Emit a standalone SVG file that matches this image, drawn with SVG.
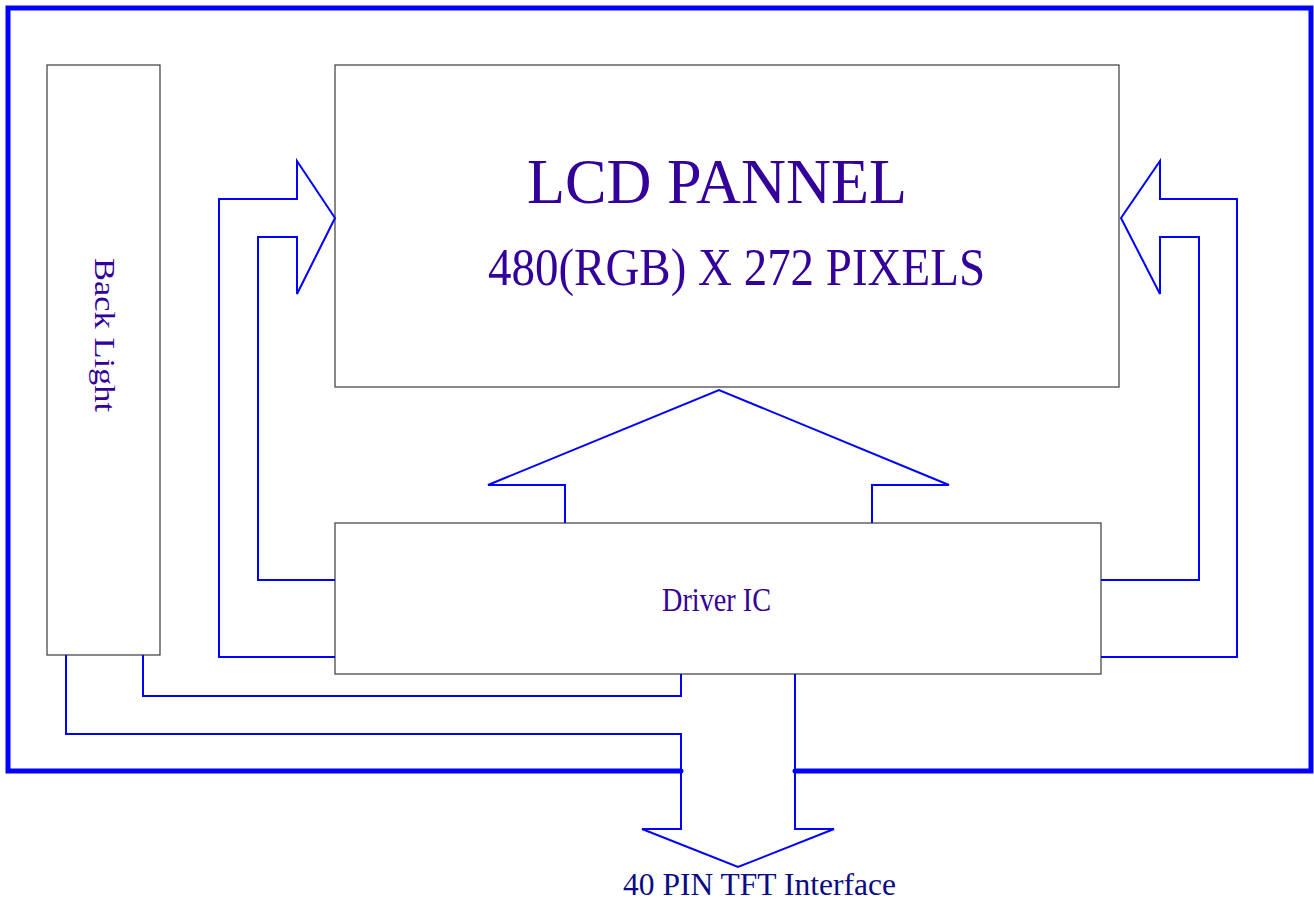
<svg xmlns="http://www.w3.org/2000/svg" width="1314" height="905" viewBox="0 0 1314 905">
<style>
.box{fill:#fff;stroke:#3a3a3a;stroke-width:1.2}
.wire{fill:none;stroke:#0000ff;stroke-width:2;stroke-linejoin:miter}
.frame{fill:none;stroke:#0000ff;stroke-width:5;stroke-linecap:round;stroke-linejoin:miter}
.lbl{font-family:"Liberation Serif","Times New Roman",serif;fill:#330099}
.pin{font-family:"Liberation Serif","Times New Roman",serif;fill:#0a0a85}
</style>
<rect x="0" y="0" width="1314" height="905" fill="#fff"/>
<g id="frame">
<path class="frame" d="M681,771 H8 V8 H1311 V771 H795"/>
</g>
<g id="backlight">
<rect class="box" x="47" y="65" width="113" height="590"/>
<text class="lbl" transform="translate(95,258) rotate(90)" x="0" y="0" font-size="30" textLength="154" lengthAdjust="spacingAndGlyphs">Back Light</text>
</g>
<g id="lcd-panel">
<rect class="box" x="335" y="65" width="784" height="322"/>
<text class="lbl" x="527" y="203" font-size="64" textLength="380" lengthAdjust="spacingAndGlyphs">LCD PANNEL</text>
<text class="lbl" x="488" y="285" font-size="52" textLength="497" lengthAdjust="spacingAndGlyphs">480(RGB) X 272 PIXELS</text>
</g>
<g id="driver-ic">
<rect class="box" x="335" y="523" width="766" height="151"/>
<text class="lbl" x="662" y="611" font-size="33" textLength="109" lengthAdjust="spacingAndGlyphs">Driver IC</text>
</g>
<g id="connectors">
<polyline class="wire" points="335,657 219,657 219,199 297,199 297,161 335,218 297,294 297,237 258,237 258,580 335,580"/>
<polyline class="wire" points="1101,657 1237,657 1237,199 1160,199 1160,161 1121,218 1160,294 1160,237 1199,237 1199,580 1101,580"/>
<polyline class="wire" points="565,523 565,485 488,485 719,390 949,485 872,485 872,523"/>
<polyline class="wire" points="143,655 143,696 681,696 681,674"/>
<polyline class="wire" points="66,655 66,734 681,734 681,829 642,829 738,867 834,829 795,829 795,674"/>
</g>
<g id="interface-label">
<text class="pin" x="623" y="895" font-size="32" textLength="273" lengthAdjust="spacingAndGlyphs">40 PIN TFT Interface</text>
</g>
</svg>
